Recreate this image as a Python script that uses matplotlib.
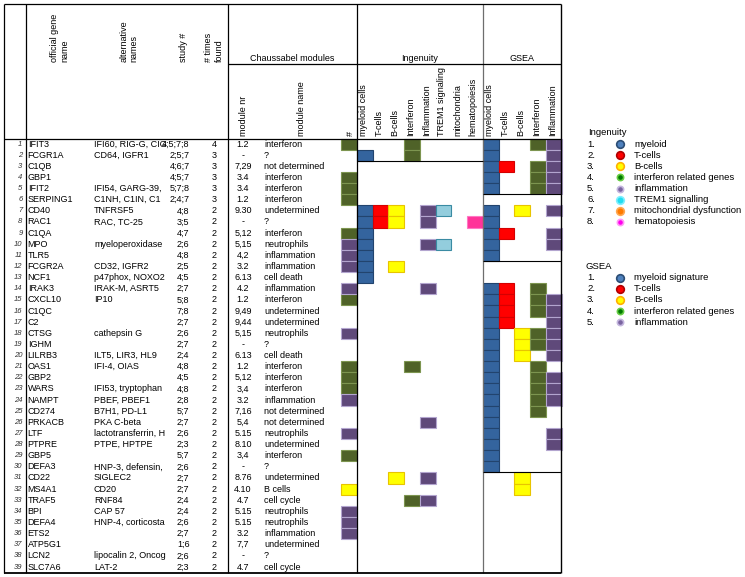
import matplotlib.pyplot as plt
from matplotlib.transforms import Bbox, TransformedBbox

plt.rcParams['font.family'] = ['Liberation Sans', 'DejaVu Sans']

# ---- table data ----
genes = ["IFIT3", "FCGR1A", "C1QB", "GBP1", "IFIT2", "SERPING1", "CD40", "RAC1", "C1QA", "MPO",
         "TLR5", "FCGR2A", "NCF1", "IRAK3", "CXCL10", "C1QC", "C2", "CTSG", "IGHM", "LILRB3",
         "OAS1", "GBP2", "WARS", "NAMPT", "CD274", "PRKACB", "LTF", "PTPRE", "GBP5", "DEFA3",
         "CD22", "MS4A1", "TRAF5", "BPI", "DEFA4", "ETS2", "ATP5G1", "LCN2", "SLC7A6"]
# as far as they are visible in the (narrow) spreadsheet column
alt_names = ["IFI60, RIG-G, CIG", "CD64, IGFR1", "", "", "IFI54, GARG-39,",
             "C1NH, C1IN, C1", "TNFRSF5", "RAC, TC-25", "", "myeloperoxidase",
             "", "CD32, IGFR2", "p47phox, NOXO2", "IRAK-M, ASRT5", "IP10",
             "", "", "cathepsin G", "", "ILT5, LIR3, HL9",
             "IFI-4, OIAS", "", "IFI53, tryptophan", "PBEF, PBEF1", "B7H1, PD-L1",
             "PKA C-beta", "lactotransferrin, H", "PTPE, HPTPE", "", "HNP-3, defensin,",
             "SIGLEC2", "CD20", "RNF84", "CAP 57", "HNP-4, corticosta",
             "", "", "lipocalin 2, Oncog", "LAT-2"]
study = ["4;5;7;8", "2;5;7", "4;6;7", "4;5;7", "5;7;8", "2;4;7", "4;8", "3;5", "4;7", "2;6",
         "4;8", "2;5", "4;5", "2;7", "5;8", "7;8", "2;7", "2;6", "2;7", "2;4",
         "4;8", "4;5", "4;8", "2;8", "5;7", "2;7", "2;6", "2;3", "5;7", "2;6",
         "2;7", "2;7", "2;4", "2;4", "2;6", "2;7", "1;6", "2;6", "2;3"]
times_found = [4, 3, 3, 3, 3, 3] + [2] * 33
module_nr = ["1.2", "-", "7,29", "3.4", "3.4", "1.2", "9.30", "-", "5,12", "5,15",
             "4,2", "3.2", "6.13", "4.2", "1.2", "9,49", "9,44", "5,15", "-", "6.13",
             "1.2", "5,12", "3,4", "3.2", "7,16", "5,4", "5.15", "8.10", "3,4", "-",
             "8.76", "4.10", "4.7", "5.15", "5.15", "3.2", "7,7", "-", "4.7"]
module_name = ["interferon", "?", "not determined", "interferon", "interferon", "interferon",
               "undetermined", "?", "interferon", "neutrophils", "inflammation", "inflammation",
               "cell death", "inflammation", "interferon", "undetermined", "undetermined",
               "neutrophils", "?", "cell death", "interferon", "interferon", "interferon",
               "inflammation", "not determined", "not determined", "neutrophils", "undetermined",
               "interferon", "?", "undetermined", "B cells", "cell cycle", "neutrophils",
               "neutrophils", "inflammation", "undetermined", "?", "cell cycle"]
# Chaussabel module category per row (G interferon, P inflammation/neutrophils, Y B cells)
module_cat = ["G", "", "", "G", "G", "G", "", "", "G", "P", "P", "P", "", "P", "G", "", "", "P", "",
              "", "G", "G", "G", "P", "", "", "P", "", "G", "", "", "Y", "", "P", "P", "P", "", "", ""]

ing_labels = ["myeloid cells", "T-cells", "B-cells", "Interferon", "Inflammation",
              "TREM1 signaling", "mitochondria", "hematopoiesis"]
ing_hits = [[2, 7, 8, 9, 10, 11, 12, 13],
            [7, 8],
            [7, 8, 12, 31],
            [1, 2, 21, 33],
            [7, 8, 10, 14, 26, 31, 33],
            [7, 10],
            [],
            [8]]
gsea_labels = ["myeloid cells", "T-cells", "B-cells", "Interferon", "Inflammation"]
gsea_hits = [[1, 2, 3, 4, 5, 7, 8, 9, 10, 11] + list(range(14, 31)),
             [3, 9, 14, 15, 16, 17],
             [7, 18, 19, 20, 31, 32],
             [1, 3, 4, 5, 14, 15, 16, 18, 19, 21, 22, 23, 24, 25],
             [1, 2, 3, 4, 5, 7, 9, 10, 15, 16, 17, 18, 19, 20, 22, 23, 24, 27, 28]]

ing_legend = ["myeloid", "T-cells", "B-cells", "interferon related genes", "inflammation",
              "TREM1 signalling", "mitochondrial dysfunction", "hematopoiesis"]
gsea_legend = ["myeloid signature", "T-cells", "B-cells", "interferon related genes", "inflammation"]

# ---- styles ----
cell_style = {"blue": ("#34649e", "#22446e"), "red": ("#ff0000", "#d40000"),
              "yellow": ("#ffff00", "#e8c400"), "green": ("#4f6228", "#7d9550"),
              "purple": ("#5f497a", "#b3a5cf"), "cyan": ("#93cddd", "#3a8ba3"),
              "orange": ("#ff8c1a", "#d86a00"), "pink": ("#ff3399", "#ff77c4")}
ing_colors = ["blue", "red", "yellow", "green", "purple", "cyan", "orange", "pink"]
gsea_colors = ["blue", "red", "yellow", "green", "purple"]
cat_colors = {"G": "green", "P": "purple", "Y": "yellow"}

ing_dots = [("#4f81bd", "#2c4d75", 5.5), ("#ff0000", "#b00000", 5.5), ("#ffff00", "#ffb000", 5.5),
            ("#007a00", "#66cc44", 4.5), ("#7a64a0", "#c4b6de", 4.5), ("#22ddf0", "#7eefff", 5.5),
            ("#ff7a00", "#ffa850", 5.5), ("#ff00ee", "#ff99f5", 4.5)]

# ---- layout (pixels) ----
ROW0, ROW_H = 138.5, 11.13
COL_W = 15.7
X_HASH, X_ING, X_GSEA, X_RIGHT = 341.3, 357.0, 483.0, 561.0
TOP, BOTTOM = 3.5, 572.5
FS = 6.5
n = len(genes)


def yc(r):
    return ROW0 + (r - 0.5) * ROW_H


def cells(ax, x_left, hits, color):
    if not hits:
        return
    face, edge = cell_style[color]
    ax.bar([x_left] * len(hits), [ROW_H] * len(hits), bottom=[ROW0 + (r - 1) * ROW_H for r in hits],
           width=COL_W, align='edge', color=face, edgecolor=edge, linewidth=0.8, zorder=2)


fig = plt.figure(figsize=(7.45, 5.77), dpi=100)
ax = fig.add_axes([0, 0, 1, 1])
ax.set_xlim(0, 745)
ax.set_ylim(577, 0)
ax.axis('off')

# grid lines
ax.vlines([3.5, 26, 228, X_ING], TOP, BOTTOM, color='black', lw=0.9, zorder=3)
ax.vlines([X_GSEA], TOP, BOTTOM, color='#6e6e6e', lw=0.9, zorder=3)
ax.vlines([X_RIGHT], TOP, BOTTOM, color='black', lw=1.0, zorder=3)
ax.hlines([TOP, ROW0], 3.5, X_RIGHT, color='black', lw=0.9, zorder=3)
ax.hlines([BOTTOM], 3.5, X_RIGHT, color='black', lw=1.3, zorder=3)
ax.hlines([63.5], 228, X_RIGHT, color='black', lw=0.9, zorder=3)
ax.hlines([ROW0 + 2 * ROW_H], X_ING, X_GSEA, color='black', lw=0.8, zorder=3)
ax.hlines([ROW0 + r * ROW_H for r in (5, 11, 30)], X_GSEA, X_RIGHT, color='black', lw=0.8, zorder=3)

# header texts
hdr = dict(rotation=90, ha='center', va='bottom', fontsize=FS, multialignment='left')
ax.text(60, 62, "official gene\nname", **hdr)
ax.text(129, 62, "alternative\nnames", **hdr)
ax.text(184, 62, "study #", **hdr)
ax.text(214, 62, "# times\nfound", **hdr)
ax.text(292, 58.5, "Chaussabel modules", ha='center', va='center', fontsize=FS)
ax.text((X_ING + X_GSEA) / 2, 58.5, "Ingenuity", ha='center', va='center', fontsize=FS)
ax.text((X_GSEA + X_RIGHT) / 2, 58.5, "GSEA", ha='center', va='center', fontsize=FS)
ax.text(244, 136, "module nr", **hdr)
ax.text(301.5, 136, "module name", **hdr)
ax.text(350, 136, "#", **hdr)
for i, lab in enumerate(ing_labels):
    ax.text(X_ING + (i + 0.5) * COL_W - 1.5, 136, lab, **hdr)
for i, lab in enumerate(gsea_labels):
    ax.text(X_GSEA + (i + 0.5) * COL_W - 1.5, 136, lab, **hdr)

# row texts; alternative names are cut at the cell edge like in the spreadsheet
alt_clip = TransformedBbox(Bbox.from_extents(90, ROW0, 166, BOTTOM), ax.transData)
for i in range(n):
    r = i + 1
    y = yc(r)
    ax.text(22.5, y, str(r), ha='right', va='center', fontsize=5.5, style='italic', color='#333333')
    ax.text(27.7, y, genes[i], ha='left', va='center', fontsize=FS)
    t = ax.text(94, y, alt_names[i], ha='left', va='center', fontsize=FS)
    t.set_clip_box(alt_clip)
    t.set_clip_on(True)
    ax.text(189.5, y, study[i], ha='right', va='center', fontsize=FS)
    ax.text(214.5, y, str(times_found[i]), ha='center', va='center', fontsize=FS)
    ax.text(243, y, module_nr[i], ha='center', va='center', fontsize=FS)
    ax.text(264, y, module_name[i], ha='left', va='center', fontsize=FS)

# coloured cells
for cat, col in cat_colors.items():
    cells(ax, X_HASH, [i + 1 for i, c in enumerate(module_cat) if c == cat], col)
for i, hits in enumerate(ing_hits):
    cells(ax, X_ING + i * COL_W, hits, ing_colors[i])
for i, hits in enumerate(gsea_hits):
    cells(ax, X_GSEA + i * COL_W, hits, gsea_colors[i])

# legends
LEG_FS = 6.8
ax.text(588, yc(0), "Ingenuity", ha='left', va='center', fontsize=LEG_FS)
for i, lab in enumerate(ing_legend):
    y = yc(i + 1)
    face, edge, ms = ing_dots[i]
    ax.text(587, y, f"{i + 1}.", ha='left', va='center', fontsize=LEG_FS)
    ax.plot(620, y, 'o', ms=ms, mfc=face, mec=edge, mew=1.2)
    ax.text(634, y, lab, ha='left', va='center', fontsize=LEG_FS)

ax.text(586, yc(12), "GSEA", ha='left', va='center', fontsize=LEG_FS)
for i, lab in enumerate(gsea_legend):
    y = yc(i + 13)
    face, edge, ms = ing_dots[i]
    ax.text(587, y, f"{i + 1}.", ha='left', va='center', fontsize=LEG_FS)
    ax.plot(620, y, 'o', ms=ms, mfc=face, mec=edge, mew=1.2)
    ax.text(634, y, lab, ha='left', va='center', fontsize=LEG_FS)

fig.savefig("out.png", dpi=100)
